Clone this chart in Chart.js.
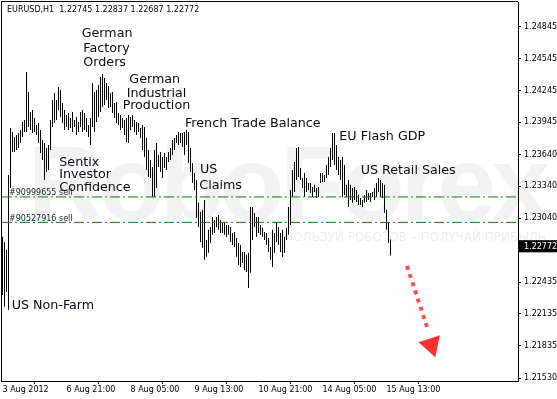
<!DOCTYPE html>
<html><head><meta charset="utf-8">
<script src="https://cdn.jsdelivr.net/npm/chart.js@4/dist/chart.umd.min.js"></script>
<style>html,body{margin:0;padding:0;background:#fff;overflow:hidden}#wrap{width:557px;height:399px}</style>
</head><body><div id="wrap"><canvas id="c" width="557" height="399"></canvas></div>
<script>
// ---- data ----
const symbol = "EURUSD,H1";
const lastOHLC = [1.22745, 1.22837, 1.22687, 1.22772];
const barHigh = [
1.22863,1.22815,1.22740,1.23448,1.23892,1.23854,1.23807,1.23826,1.23844,1.23873,
1.23948,1.23967,1.24420,1.24231,1.24043,1.24061,1.23986,1.23920,1.23939,1.23873,
1.23778,1.23750,1.23703,1.23731,1.23967,1.24156,1.24222,1.24156,1.24279,1.24250,
1.24128,1.24061,1.24014,1.24033,1.23986,1.24043,1.23967,1.23995,1.23948,1.24043,
1.24061,1.24033,1.23986,1.23920,1.23986,1.24316,1.24231,1.24250,1.24298,1.24373,
1.24401,1.24364,1.24316,1.24288,1.24222,1.24231,1.24128,1.24137,1.24033,1.24014,
1.23986,1.23967,1.23986,1.24014,1.23995,1.24014,1.23967,1.23948,1.23939,1.23892,
1.23920,1.23901,1.23797,1.23684,1.23590,1.23523,1.23684,1.23750,1.23637,1.23665,
1.23618,1.23656,1.23618,1.23665,1.23703,1.23778,1.23797,1.23826,1.23854,1.23844,
1.23844,1.23854,1.23873,1.23854,1.23703,1.23561,1.23467,1.23401,1.23184,1.23099,
1.23118,1.23212,1.22834,1.22929,1.22957,1.23051,1.23023,1.23051,1.23070,1.23023,
1.22995,1.22995,1.22976,1.22976,1.22957,1.22900,1.22910,1.22853,1.22806,1.22787,
1.22721,1.22721,1.22693,1.22712,1.23146,1.23146,1.23089,1.23051,1.23051,1.22976,
1.22948,1.22910,1.22900,1.22853,1.22768,1.22929,1.22900,1.22995,1.22957,1.22900,
1.22929,1.22863,1.22948,1.23146,1.23306,1.23495,1.23571,1.23703,1.23712,1.23514,
1.23420,1.23467,1.23420,1.23372,1.23372,1.23335,1.23354,1.23325,1.23335,1.23467,
1.23467,1.23448,1.23542,1.23618,1.23703,1.23844,1.23844,1.23731,1.23618,1.23590,
1.23618,1.23542,1.23354,1.23401,1.23354,1.23325,1.23335,1.23306,1.23259,1.23231,
1.23212,1.23259,1.23306,1.23278,1.23278,1.23287,1.23325,1.23372,1.23420,1.23401,
1.23372,1.23354,1.23118,1.23004,1.22837];
const barLow = [
1.22315,1.22202,1.22343,1.22174,1.23325,1.23665,1.23665,1.23684,1.23703,1.23750,
1.23807,1.23854,1.23854,1.23901,1.23873,1.23844,1.23854,1.23826,1.23750,1.23656,
1.23590,1.23401,1.23476,1.23495,1.23684,1.23901,1.23939,1.23967,1.24061,1.23995,
1.23939,1.23873,1.23901,1.23873,1.23892,1.23854,1.23901,1.23826,1.23854,1.23901,
1.23854,1.23873,1.23854,1.23807,1.23731,1.23901,1.23854,1.23948,1.23995,1.24043,
1.24090,1.24109,1.24156,1.24080,1.24090,1.24033,1.23986,1.23939,1.23920,1.23873,
1.23892,1.23826,1.23759,1.23750,1.23873,1.23901,1.23854,1.23826,1.23854,1.23797,
1.23684,1.23618,1.23495,1.23429,1.23420,1.23240,1.23240,1.23325,1.23523,1.23476,
1.23420,1.23514,1.23495,1.23571,1.23590,1.23637,1.23684,1.23750,1.23731,1.23750,
1.23712,1.23637,1.23731,1.23561,1.23476,1.23372,1.23306,1.23042,1.22957,1.22815,
1.22759,1.22646,1.22674,1.22712,1.22806,1.22882,1.22900,1.22957,1.22929,1.22900,
1.22900,1.22882,1.22863,1.22882,1.22815,1.22787,1.22768,1.22674,1.22598,1.22579,
1.22617,1.22551,1.22532,1.22381,1.22523,1.22834,1.22957,1.22863,1.22900,1.22882,
1.22863,1.22834,1.22787,1.22721,1.22646,1.22579,1.22712,1.22815,1.22787,1.22721,
1.22674,1.22712,1.22834,1.22882,1.22976,1.23240,1.23287,1.23401,1.23429,1.23401,
1.23325,1.23240,1.23287,1.23306,1.23278,1.23240,1.23287,1.23231,1.23240,1.23372,
1.23382,1.23382,1.23420,1.23448,1.23523,1.23590,1.23542,1.23495,1.23448,1.23401,
1.23240,1.23259,1.23240,1.23146,1.23212,1.23184,1.23212,1.23193,1.23165,1.23165,
1.23146,1.23184,1.23193,1.23212,1.23193,1.23240,1.23212,1.23240,1.23287,1.23240,
1.23231,1.23089,1.22929,1.22806,1.22687];
const xTickIdx = [0, 32, 64, 96, 128, 160, 192];
const xTickLabels = ["3 Aug 2012", "6 Aug 21:00", "8 Aug 05:00", "9 Aug 13:00", "10 Aug 21:00", "14 Aug 05:00", "15 Aug 13:00"];
const yTickLabels = ["1.24845","1.24545","1.24245","1.23945","1.23640","1.23340","1.23040","1.22772","1.22435","1.22135","1.21835","1.21530"];
const sellOrders = ["#90999655 sell", "#90527916 sell"];
const sellPrices = [1.2324, 1.2300];
const arrowIdx = [202.25, 212.75];
const arrowPrice = [1.22588, 1.21983];
const arrowHeadIdx = [214.35];
const arrowHeadPrice = [1.21842];
const eventText = ["German","Factory","Orders","German","Industrial","Production","French Trade Balance",
  "Sentix","Investor","Confidence","US","Claims","EU Flash GDP","US Retail Sales","US Non-Farm"];
const eventPos = [[39.6,1.247855],[40.4,1.246438],[40.4,1.245078],[63.4,1.243510],[62.1,1.242188],[60.1,1.241055],[91.25,1.239289],
  [28.4,1.235672],[28.4,1.234538],[28.4,1.233310],[98.75,1.234944],[98.4,1.233433],[168.4,1.238089],[179.1,1.234850],[4.6,1.222100]];

// ---- chart ----
const AX = '"DejaVu Sans", sans-serif';
const lastClose = lastOHLC[3];
const yTickVals = yTickLabels.map(Number);

const decor = {
  id: 'decor',
  beforeDraw(chart) {
    const ctx = chart.ctx;
    ctx.save();
    ctx.fillStyle = '#ffffff';
    ctx.fillRect(0, 0, chart.width, chart.height);
    ctx.fillStyle = '#f3f3f3';
    ctx.font = 'bold 105px "Liberation Sans", sans-serif';
    ctx.textBaseline = 'alphabetic';
    ctx.textAlign = 'left';
    try { ctx.letterSpacing = '-4px'; } catch (e) {}
    ctx.fillText('RoboForex', 28, 220);
    try { ctx.letterSpacing = '0px'; } catch (e) {}
    ctx.fillStyle = '#eeeeee';
    ctx.font = '12px ' + AX;
    ctx.textAlign = 'right';
    ctx.fillText('ИСПОЛЬЗУЙ РОБОТОВ – ПОЛУЧАЙ ПРИБЫЛЬ', 546, 241);
    ctx.restore();
  },
  afterDatasetsDraw(chart) {
    const ctx = chart.ctx, xs = chart.scales.x, ys = chart.scales.y, a = chart.chartArea;
    ctx.save();
    ctx.font = '8px ' + AX;
    ctx.fillStyle = '#1a1a2a';
    ctx.textAlign = 'left';
    ctx.textBaseline = 'alphabetic';
    sellOrders.forEach((t, i) => {
      ctx.fillText(t, a.left + 7, ys.getPixelForValue(sellPrices[i]) - 1.5);
    });
    ctx.font = '12.7px ' + AX;
    ctx.fillStyle = '#0a0a14';
    ctx.textBaseline = 'middle';
    eventText.forEach((t, i) => {
      ctx.fillText(t, xs.getPixelForValue(eventPos[i][0]), ys.getPixelForValue(eventPos[i][1]));
    });
    ctx.restore();
  },
  afterDraw(chart) {
    const ctx = chart.ctx, a = chart.chartArea;
    ctx.save();
    ctx.fillStyle = '#000';
    ctx.fillRect(1, 1, a.right - 1, 1);
    ctx.fillRect(1, 1, 1, a.bottom);
    ctx.font = '8px ' + AX;
    ctx.textBaseline = 'middle';
    ctx.textAlign = 'left';
    ctx.fillText(symbol + '  ' + lastOHLC.map(v => v.toFixed(5)).join(' '), 7, 10);
    ctx.restore();
  }
};

new Chart(document.getElementById('c'), {
  type: 'bar',
  data: {
    datasets: [
      {
        type: 'line', order: 0,
        data: [{x: arrowHeadIdx[0], y: arrowHeadPrice[0]}],
        showLine: false, pointStyle: 'triangle', pointRadius: 13, pointRotation: 161.6,
        pointBackgroundColor: '#ff3030', pointBorderWidth: 0, pointBorderColor: '#ff3030'
      },
      {
        type: 'line', order: 1,
        data: arrowIdx.map((x, i) => ({x, y: arrowPrice[i]})),
        borderColor: 'rgba(255,60,60,0.9)', borderWidth: 4, borderDash: [4, 4.6], borderCapStyle: 'butt',
        pointRadius: 0, fill: false, tension: 0
      },
      ...sellPrices.map((p, k) => ({
        type: 'line', order: 2,
        data: [{x: -0.25, y: p}, {x: 257.75, y: p}],
        borderColor: '#008000', borderWidth: 1, borderDash: [10, 3, 2, 3],
        pointRadius: 0, fill: false
      })),
      {
        type: 'bar', order: 5,
        data: barHigh.map((h, i) => ({x: i, y: [barLow[i], h]})),
        backgroundColor: '#000', borderWidth: 0, barThickness: 1, inflateAmount: 0, grouped: false
      }
    ]
  },
  options: {
    responsive: false, animation: false, events: [],
    layout: {autoPadding: false, padding: {left: 2, top: 2, right: 0, bottom: 0}},
    plugins: {legend: {display: false}, tooltip: {enabled: false}},
    scales: {
      x: {
        type: 'linear', min: -0.25, max: 257.75, offset: false,
        grid: {drawOnChartArea: false, drawTicks: true, tickLength: 3, color: '#000'},
        border: {display: true, color: '#000', width: 1},
        ticks: {
          autoSkip: false, maxRotation: 0, minRotation: 0, align: 'start', padding: 1,
          color: '#000', font: {family: '"DejaVu Sans"', size: 8},
          callback: (v) => { const k = xTickIdx.indexOf(v); return k >= 0 ? xTickLabels[k] : ''; }
        },
        afterBuildTicks: (s) => { s.ticks = xTickIdx.map(v => ({value: v})); },
        afterFit: (s) => { s.height = 18; s.paddingLeft = 0; s.paddingRight = 0; }
      },
      y: {
        position: 'right', min: 1.215017, max: 1.250811,
        grid: {drawOnChartArea: false, drawTicks: true, tickLength: 3, color: '#000'},
        border: {display: true, color: '#000', width: 1},
        ticks: {
          autoSkip: false, padding: 3,
          font: {family: '"DejaVu Sans"', size: 8},
          color: (c) => (c.tick && c.tick.value === lastClose) ? '#fff' : '#000',
          showLabelBackdrop: (c) => !!(c.tick && c.tick.value === lastClose),
          backdropColor: '#000',
          backdropPadding: {top: 1.5, bottom: 1, left: 5, right: 3},
          callback: (v) => { const k = yTickVals.indexOf(v); return k >= 0 ? yTickLabels[k] : ''; }
        },
        afterBuildTicks: (s) => { s.ticks = yTickVals.map(v => ({value: v})); },
        afterFit: (s) => { s.width = 39; s.paddingTop = 0; s.paddingBottom = 0; }
      }
    }
  },
  plugins: [decor]
});
</script>
</body></html>
